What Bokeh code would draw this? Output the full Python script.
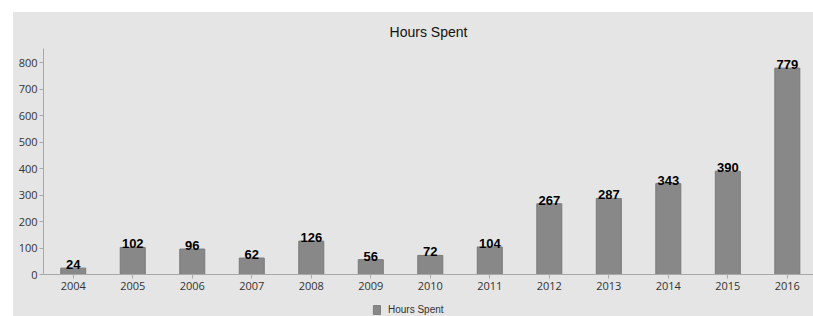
from bokeh.plotting import figure
from bokeh.layouts import column
from bokeh.models import ColumnDataSource, Range1d, Legend, LegendItem, FixedTicker
from bokeh.core.properties import value
from bokeh.embed import file_html
from bokeh.resources import INLINE

years = ["2004", "2005", "2006", "2007", "2008", "2009", "2010",
         "2011", "2012", "2013", "2014", "2015", "2016"]
hours = [24, 102, 96, 62, 126, 56, 72, 104, 267, 287, 343, 390, 779]
y_ticks = [0, 100, 200, 300, 400, 500, 600, 700, 800]
series_name = "Hours Spent"

idx = list(range(len(years)))
src = ColumnDataSource(dict(x=idx, year=years, hours=hours,
                            label=[str(h) for h in hours]))

BG = "#e5e5e5"
BAR = "#888888"
BAR_LINE = "#7a7a7a"

p = figure(width=800, height=285, output_backend="svg", toolbar_location=None,
           x_range=Range1d(-0.5, 12.44), y_range=Range1d(0, 853),
           min_border_left=30, min_border_right=0, min_border_top=36,
           min_border_bottom=23)
p.background_fill_alpha = 0
p.border_fill_alpha = 0
p.outline_line_color = None
p.grid.grid_line_color = None

p.title.text = series_name
p.title.align = "center"
p.title.vertical_align = "top"
p.title.text_font = "Liberation Sans"
p.title.text_font_size = "14px"
p.title.text_font_style = "normal"
p.title.text_color = "#111111"
p.title.offset = 0
p.title.standoff = 13

p.vbar(x="x", top="hours", width=0.42, source=src,
       fill_color=BAR, line_color=BAR_LINE, line_width=1)

p.text(x="x", y="hours", text="label", source=src,
       text_align="center", text_baseline="bottom", y_offset=1,
       text_font=value("Liberation Sans"), text_font_style="bold",
       text_font_size="13px", text_color="#000000")

for ax in (p.xaxis[0], p.yaxis[0]):
    ax.axis_line_color = "#a8a8a8"
    ax.major_tick_line_color = "#a8a8a8"
    ax.minor_tick_line_color = None
    ax.major_tick_in = 0
    ax.major_tick_out = 4
    ax.major_label_text_font = "Open Sans"
    ax.major_label_text_font_size = "11px"
    ax.major_label_text_color = "#333333"
    ax.major_label_standoff = 3

p.xaxis.ticker = FixedTicker(ticks=idx)
p.xaxis.major_label_overrides = {i: y for i, y in enumerate(years)}
p.yaxis.ticker = FixedTicker(ticks=y_ticks)
p.yaxis.major_label_standoff = 2

# legend strip below the chart (its bar renderer is hidden; only the key shows)
p2 = figure(width=800, height=19, output_backend="svg", toolbar_location=None,
            title=None, x_axis_location=None, y_axis_location=None,
            x_range=Range1d(-0.5, 12.44), y_range=Range1d(0, 853),
            min_border_left=30, min_border_right=0, min_border_top=0,
            min_border_bottom=0)
p2.background_fill_alpha = 0
p2.border_fill_alpha = 0
p2.outline_line_color = None
p2.grid.grid_line_color = None
lr = p2.vbar(x="x", top="hours", width=0.42, source=src,
             fill_color=BAR, line_color=BAR_LINE, line_width=1)
lr.visible = False
legend = Legend(items=[LegendItem(label=series_name, renderers=[lr])],
                location=(329, 1), orientation="horizontal",
                background_fill_alpha=0, border_line_color=None,
                inactive_fill_alpha=0,
                label_text_font="Liberation Sans", label_text_font_size="10px",
                label_text_color="#333333", glyph_width=9, glyph_height=11,
                label_height=11, padding=0, margin=0, spacing=4,
                label_standoff=7)
p2.add_layout(legend)

layout = column(p, p2, spacing=0)
layout.margin = (12, 0, 0, 13)
layout.styles = {"background-color": BG}

open("out.html", "w").write(file_html(layout, INLINE))
